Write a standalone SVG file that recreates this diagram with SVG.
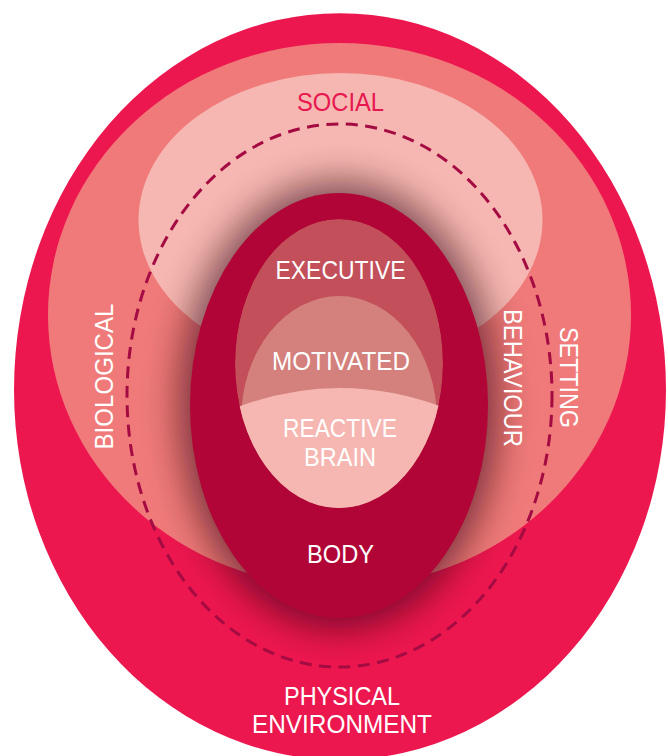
<svg xmlns="http://www.w3.org/2000/svg" width="668" height="756" viewBox="0 0 668 756">
  <style>
    .lbl { font-family: "Liberation Sans", Arial, sans-serif; font-size: 26px; fill: #ffffff; text-anchor: middle; }
    .soc { fill: #E8174F; }
  </style>
  <defs>
    <filter id="blur" x="-50%" y="-50%" width="200%" height="200%">
      <feGaussianBlur stdDeviation="18"/>
    </filter>
    <clipPath id="innerClip">
      <ellipse cx="339" cy="363.5" rx="104" ry="144.5"/>
    </clipPath>
  </defs>

  <g id="physical-environment">
    <path d="M 14 390 A 326 377 0 0 1 666 390 A 326 370 0 0 1 14 390 Z" fill="#ED174F"/>
  </g>
  <g id="setting">
    <ellipse cx="339.5" cy="315" rx="291.5" ry="272" fill="#F07A7A"/>
  </g>
  <g id="social">
    <ellipse cx="340.5" cy="220" rx="202" ry="147" fill="#F6B6B1"/>
  </g>
  <g id="shadow">
    <ellipse cx="339" cy="405" rx="160" ry="224" fill="#2a0010" opacity="0.58" filter="url(#blur)"/>
  </g>
  <g id="behaviour">
    <ellipse cx="339.5" cy="395.5" rx="212.5" ry="271.5" fill="none" stroke="#A30B42" stroke-width="3" stroke-dasharray="12 7.5"/>
  </g>
  <g id="body">
    <ellipse cx="339" cy="405.5" rx="149" ry="212.5" fill="#B20537"/>
  </g>
  <g id="brain" clip-path="url(#innerClip)">
    <ellipse cx="339" cy="363.5" rx="104" ry="144.5" fill="#C24F59"/>
    <ellipse cx="339" cy="420" rx="98" ry="124" fill="#D4817D"/>
    <path d="M 225 412 Q 340 364 455 412 L 455 520 L 225 520 Z" fill="#F6B7B2"/>
  </g>

  <g id="labels">
    <text class="lbl soc" x="340.5" y="111" textLength="87" lengthAdjust="spacingAndGlyphs">SOCIAL</text>
    <text class="lbl" x="340.5" y="279" textLength="130" lengthAdjust="spacingAndGlyphs">EXECUTIVE</text>
    <text class="lbl" x="341" y="370" textLength="138" lengthAdjust="spacingAndGlyphs">MOTIVATED</text>
    <text class="lbl" x="340" y="437" textLength="114" lengthAdjust="spacingAndGlyphs">REACTIVE</text>
    <text class="lbl" x="340" y="466" textLength="72" lengthAdjust="spacingAndGlyphs">BRAIN</text>
    <text class="lbl" x="340.5" y="563" textLength="67" lengthAdjust="spacingAndGlyphs">BODY</text>
    <text class="lbl" x="342" y="705" textLength="116" lengthAdjust="spacingAndGlyphs">PHYSICAL</text>
    <text class="lbl" x="342" y="733" textLength="180" lengthAdjust="spacingAndGlyphs">ENVIRONMENT</text>
    <text class="lbl" transform="translate(112.5,376.5) rotate(-90)" x="0" y="0" textLength="146" lengthAdjust="spacingAndGlyphs">BIOLOGICAL</text>
    <text class="lbl" transform="translate(503.5,378) rotate(90)" x="0" y="0" textLength="138" lengthAdjust="spacingAndGlyphs">BEHAVIOUR</text>
    <text class="lbl" transform="translate(560,377.5) rotate(90)" x="0" y="0" textLength="101" lengthAdjust="spacingAndGlyphs">SETTING</text>
  </g>
</svg>
